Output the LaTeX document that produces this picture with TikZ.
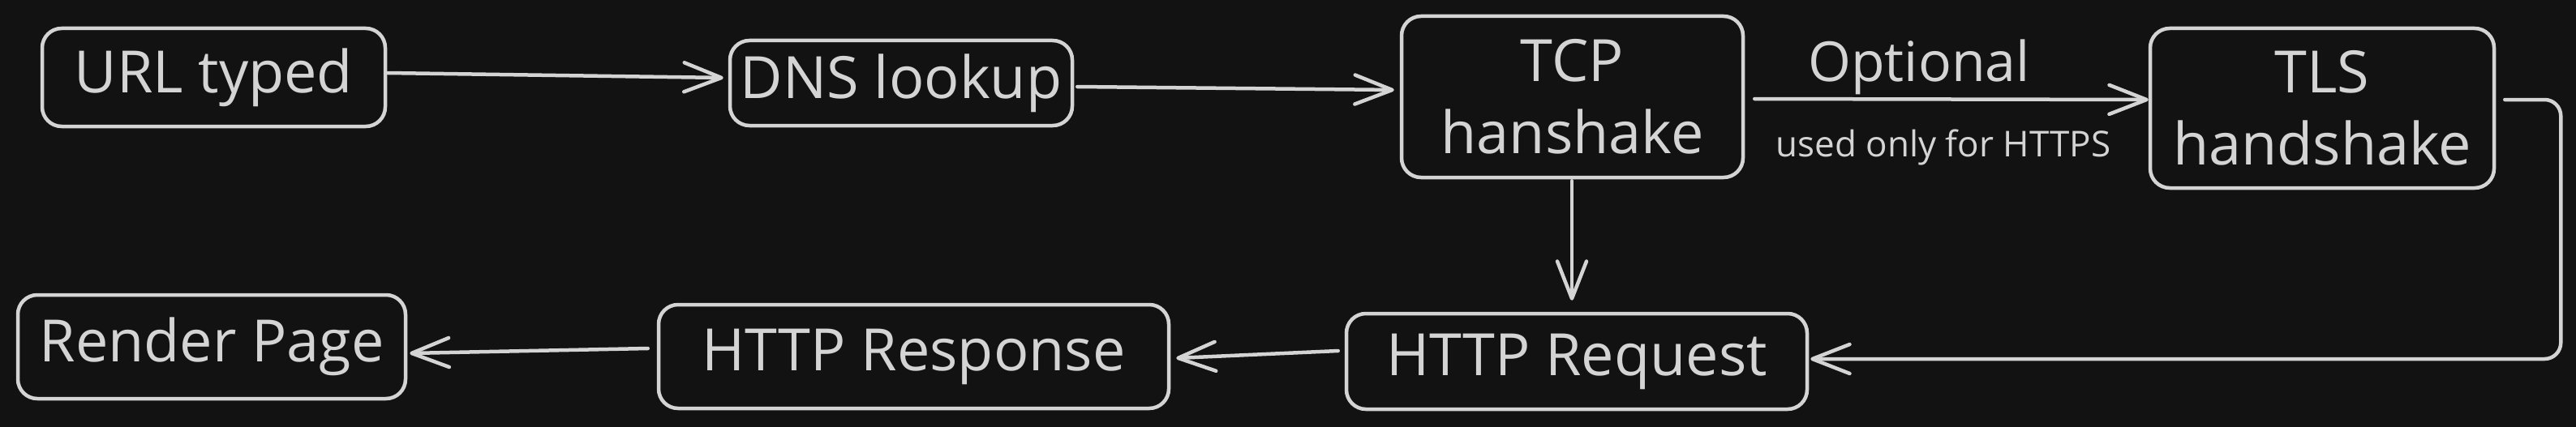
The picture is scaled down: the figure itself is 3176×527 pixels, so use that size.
\documentclass[tikz,border=0pt]{standalone}
\usepackage{fontspec}
\setmainfont{Open Sans}
\usetikzlibrary{arrows.meta}
\definecolor{bg}{HTML}{121212}
\definecolor{ink}{HTML}{D4D4D4}
\begin{document}
\begin{tikzpicture}[x=1pt,y=-1pt,
  box/.style={draw=ink, line width=4.5pt, rounded corners=24pt, text=ink,
    font=\fontsize{72}{89}\selectfont, align=center, inner sep=0pt},
  arr/.style={draw=ink, line width=4.5pt, line cap=round, line join=round,
    -{Straight Barb[length=46pt,width=36pt,round]}},
  lbl/.style={text=ink, inner sep=0pt, anchor=base}]
\fill[bg] (0,0) rectangle (3176,527);
\useasboundingbox (0,0) rectangle (3176,527);

\node[box, minimum width=423pt, minimum height=121pt] (url) at (263.5,95.5) {URL typed};
\node[box, minimum width=422pt, minimum height=105pt] (dns) at (1111,102.5) {DNS lookup};
\node[box, minimum width=421pt, minimum height=199pt] (tcp) at (1938.5,119.5) {TCP\\hanshake};
\node[box, minimum width=424pt, minimum height=197pt] (tls) at (2863,133.5) {TLS\\handshake};
\node[box, minimum width=568pt, minimum height=118pt] (req) at (1944,446) {HTTP Request};
\node[box, minimum width=629pt, minimum height=128pt] (resp) at (1126.5,440) {HTTP Response};
\node[box, minimum width=478pt, minimum height=128pt] (render) at (261,428) {Render Page};

\node[lbl, font=\fontsize{68}{80}\selectfont] (opt) at (2366,100) {Optional};
\node[lbl, font=\fontsize{44}{52}\selectfont] (https) at (2396,193) {used only for HTTPS};

\draw[arr] ([xshift=1pt,yshift=5.5pt]url.east) -- ([xshift=-6pt,yshift=6.5pt]dns.west);
\draw[arr] ([xshift=4pt,yshift=-4.5pt]dns.east) -- ([xshift=-7pt,yshift=8.5pt]tcp.west);
\draw[arr] ([xshift=12pt,yshift=-2.5pt]tcp.east) -- ([yshift=10.5pt]tls.west);
\draw[arr] ([xshift=-0.5pt,yshift=-2pt]tcp.south) -- ([xshift=-0.5pt,yshift=14pt]tcp.south |- req.north);
\draw[arr, rounded corners=20pt] ([xshift=11pt,yshift=10.5pt]tls.east) -- ++(69,0) |- ([xshift=2pt,yshift=3pt]req.east);
\draw[arr] ([xshift=-8pt,yshift=13pt]req.west) -- ([xshift=7pt,yshift=-2pt]resp.east);
\draw[arr] ([xshift=-11pt,yshift=10pt]resp.west) -- ([xshift=3pt,yshift=-8pt]render.east);
\end{tikzpicture}
\end{document}
